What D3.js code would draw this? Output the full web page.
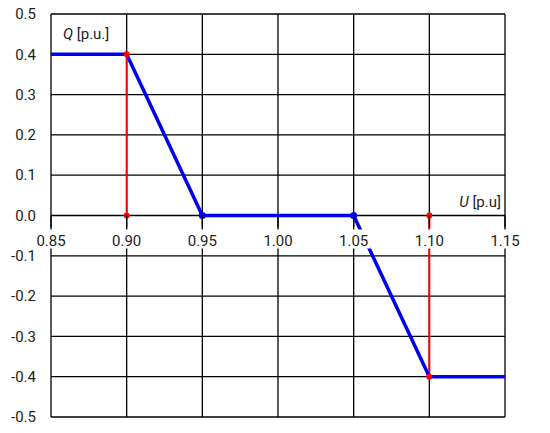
<!DOCTYPE html>
<html>
<head>
<meta charset="utf-8">
<script src="https://cdn.jsdelivr.net/npm/d3@7"></script>
<style>
  body { margin: 0; background: #fff; }
  text { font-family: Roboto, "DejaVu Sans", sans-serif; fill: #222; }
</style>
</head>
<body>
<div id="chart"></div>
<script>
  // characteristic Q(U)
  var uValues = [0.85, 0.90, 0.95, 1.05, 1.10, 1.15];
  var qValues = [0.4, 0.4, 0.0, 0.0, -0.4, -0.4];
  // red limit lines
  var redLines = [[0.90, 0.0, 0.4], [1.10, 0.0, -0.4]];
  var redDots = [[0.90, 0.0], [0.90, 0.4], [1.10, 0.0], [1.10, -0.4]];
  var blueDots = [[0.95, 0.0], [1.05, 0.0]];
  var xTicks = [0.85, 0.90, 0.95, 1.00, 1.05, 1.10, 1.15];
  var yTicks = [0.5, 0.4, 0.3, 0.2, 0.1, 0.0, -0.1, -0.2, -0.3, -0.4, -0.5];

  var w = 550, h = 433,
      m = {left: 51, right: 45, top: 14, bottom: 16};

  var x = d3.scaleLinear().domain([0.85, 1.15]).range([m.left, w - m.right]);
  var y = d3.scaleLinear().domain([-0.5, 0.5]).range([h - m.bottom, m.top]);

  var svg = d3.select('#chart').append('svg')
      .attr('width', w)
      .attr('height', h);

  // grid
  svg.append('g').selectAll('line.v')
      .data(xTicks).enter().append('line')
      .attr('x1', function (d) { return x(d); })
      .attr('x2', function (d) { return x(d); })
      .attr('y1', y(0.5)).attr('y2', y(-0.5))
      .attr('stroke', '#000').attr('stroke-width', 1.3);
  svg.append('g').selectAll('line.h')
      .data(yTicks).enter().append('line')
      .attr('x1', x(0.85)).attr('x2', x(1.15))
      .attr('y1', function (d) { return y(d); })
      .attr('y2', function (d) { return y(d); })
      .attr('stroke', '#000').attr('stroke-width', 1.3);

  // y tick labels
  svg.append('g').selectAll('text')
      .data(yTicks).enter().append('text')
      .attr('x', m.left - 15)
      .attr('y', function (d) { return y(d); })
      .attr('dy', '0.35em')
      .attr('text-anchor', 'end')
      .style('font-size', '15px')
      .text(function (d) { return d3.format('.1f')(d).replace('−', '-'); });

  // red vertical lines
  svg.append('g').selectAll('line')
      .data(redLines).enter().append('line')
      .attr('x1', function (d) { return x(d[0]); })
      .attr('x2', function (d) { return x(d[0]); })
      .attr('y1', function (d) { return y(d[1]); })
      .attr('y2', function (d) { return y(d[2]); })
      .attr('stroke', '#ff0000').attr('stroke-width', 2);

  // blue characteristic
  var line = d3.line()
      .x(function (d) { return x(d[0]); })
      .y(function (d) { return y(d[1]); });
  svg.append('path')
      .datum(d3.zip(uValues, qValues))
      .attr('d', line)
      .attr('fill', 'none')
      .attr('stroke', '#0000ee')
      .attr('stroke-width', 3.5)
      .attr('stroke-linejoin', 'round');

  svg.append('g').selectAll('circle')
      .data(redDots).enter().append('circle')
      .attr('cx', function (d) { return x(d[0]); })
      .attr('cy', function (d) { return y(d[1]); })
      .attr('r', 3).attr('fill', '#ff0000');
  svg.append('g').selectAll('circle')
      .data(blueDots).enter().append('circle')
      .attr('cx', function (d) { return x(d[0]); })
      .attr('cy', function (d) { return y(d[1]); })
      .attr('r', 3.5).attr('fill', '#0000ee');

  // x tick labels with white backing, sitting under the zero line
  var xl = svg.append('g').selectAll('g')
      .data(xTicks).enter().append('g')
      .attr('transform', function (d) { return 'translate(' + x(d) + ',' + (y(0) + 25) + ')'; });
  xl.append('rect')
      .attr('x', -17).attr('y', -11).attr('width', 34).attr('height', 19)
      .attr('fill', '#fff');
  xl.append('text')
      .attr('dy', '0.35em')
      .attr('text-anchor', 'middle')
      .style('font-size', '15px')
      .text(function (d) { return d3.format('.2f')(d); });
  // short tick stubs under the zero line
  svg.append('g').selectAll('line')
      .data(xTicks).enter().append('line')
      .attr('x1', function (d) { return x(d); })
      .attr('x2', function (d) { return x(d); })
      .attr('y1', y(0)).attr('y2', y(0) + 12)
      .attr('stroke', '#000').attr('stroke-width', 1.3);

  // axis titles
  var qt = svg.append('text')
      .attr('x', 63).attr('y', y(0.45))
      .attr('dy', '0.35em')
      .style('font-size', '15px');
  qt.append('tspan').style('font-style', 'italic').text('Q');
  qt.append('tspan').text(' [p.u.]');

  var ut = svg.append('text')
      .attr('x', x(1.15) - 4).attr('y', y(0.035))
      .attr('dy', '0.35em')
      .attr('text-anchor', 'end')
      .style('font-size', '15px');
  ut.append('tspan').style('font-style', 'italic').text('U');
  ut.append('tspan').text(' [p.u]');
</script>
</body>
</html>
